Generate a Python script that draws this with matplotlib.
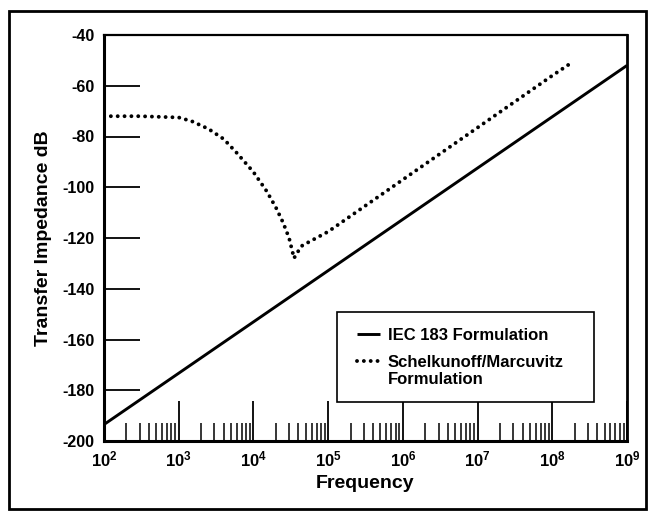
import matplotlib.pyplot as plt
from matplotlib.patches import Rectangle

plt.rcParams['font.family'] = ['Liberation Sans', 'DejaVu Sans']
plt.rcParams['font.weight'] = 'bold'
plt.rcParams['axes.unicode_minus'] = False
plt.rcParams['mathtext.fontset'] = 'custom'
plt.rcParams['mathtext.bf'] = 'Liberation Sans:bold'
plt.rcParams['mathtext.rm'] = 'Liberation Sans:bold'

# IEC 183 formulation
iec_freq = [1e2, 1e9]
iec_db = [-193.5, -52]

# Schelkunoff/Marcuvitz formulation
sm_freq = [1e2, 3e2, 1e3, 1.5e3, 2.5e3, 4e3, 6e3, 1e4, 1.5e4, 2e4, 2.5e4,
           3e4, 3.5e4, 3.7e4, 4.5e4, 6e4, 1e5, 1e6, 1e7, 1e8, 1.9e8]
sm_db = [-72, -72, -72.5, -74, -77, -81, -86.5, -94, -101.5, -108, -114,
         -120, -128, -126.5, -123, -121, -117.5, -97, -76.5, -56, -50.5]

x_ticks = [10.0 ** e for e in range(2, 10)]
x_labels = [r'$\mathbf{10^{%d}}$' % e for e in range(2, 10)]
y_ticks = [-200, -180, -160, -140, -120, -100, -80, -60, -40]

fig = plt.figure(figsize=(6.49, 5.12), dpi=100)
ax = fig.add_axes([104 / 649, 1 - 441 / 512, 523 / 649, 406 / 512])

ax.plot(iec_freq, iec_db, color='black', lw=2.1, solid_capstyle='butt',
        label='IEC 183 Formulation')
ax.plot(sm_freq, sm_db, color='black', lw=2.8, linestyle=(0, (0.01, 1.75)),
        dash_capstyle='round', label='Schelkunoff/Marcuvitz')

ax.set_xscale('log')
ax.set_xlim(1e2, 1e9)
ax.set_ylim(-200, -40)
ax.set_xticks(x_ticks)
ax.set_xticklabels(x_labels)
ax.set_yticks(y_ticks)

ax.tick_params(axis='y', direction='in', length=26, width=1.3, pad=7,
               labelsize=11.5)
ax.tick_params(axis='x', which='major', direction='in', length=28.5,
               width=1.3, pad=6, labelsize=12)
ax.tick_params(axis='x', which='minor', direction='in', length=13, width=1.1)
for lab in ax.get_yticklabels():
    lab.set_fontweight('bold')

for side, w in [('left', 2.2), ('bottom', 2.2), ('right', 2.0), ('top', 1.6)]:
    ax.spines[side].set_linewidth(w)

ax.set_ylabel('Transfer Impedance dB', fontsize=14, fontweight='bold',
              labelpad=7)
ax.set_xlabel('Frequency', fontsize=14, fontweight='bold', labelpad=4)

# legend box
ax.add_patch(Rectangle((233 / 523, 39 / 406), 257 / 523, 90 / 406,
                       transform=ax.transAxes, facecolor='white',
                       edgecolor='black', lw=1.2, zorder=4))
leg = ax.legend(loc='upper left', bbox_to_anchor=(253 / 523, 113 / 406),
                frameon=False, fontsize=12, handlelength=1.4,
                handletextpad=0.45, labelspacing=0.7, borderpad=0,
                borderaxespad=0)
leg.set_zorder(5)
ax.text(284 / 523, 62 / 406, 'Formulation', transform=ax.transAxes,
        fontsize=12, fontweight='bold', va='center', ha='left', zorder=6)

# outer frame
fig.add_artist(Rectangle((9 / 649, 3 / 512), 637 / 649, 498 / 512,
                         transform=fig.transFigure, fill=False,
                         edgecolor='black', lw=2.0))

fig.savefig('out.png', dpi=100)
